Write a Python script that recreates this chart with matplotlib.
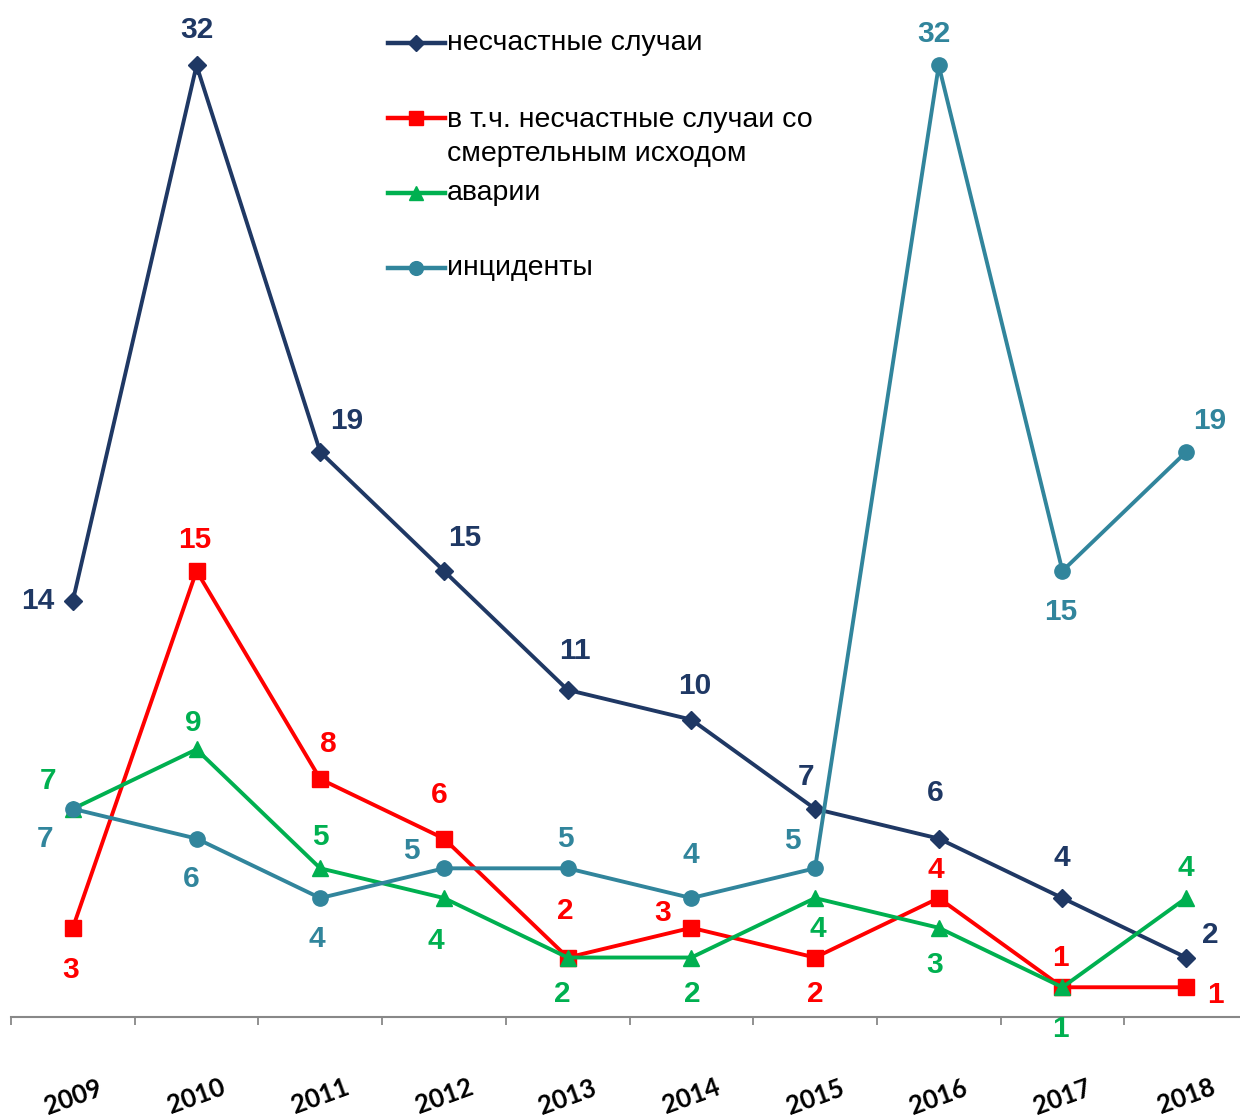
import matplotlib
matplotlib.use("Agg")
import matplotlib.pyplot as plt
from matplotlib.lines import Line2D
import numpy as np

years = ["2009", "2010", "2011", "2012", "2013", "2014", "2015", "2016", "2017", "2018"]
accidents = [14, 32, 19, 15, 11, 10, 7, 6, 4, 2]
fatal = [3, 15, 8, 6, 2, 3, 2, 4, 1, 1]
breakdowns = [7, 9, 5, 4, 2, 2, 4, 3, 1, 4]
incidents = [7, 6, 4, 5, 5, 4, 5, 32, 15, 19]

names = ["несчастные случаи",
         "в т.ч. несчастные случаи со\nсмертельным исходом",
         "аварии",
         "инциденты"]
colors = ["#1F3864", "#FF0000", "#00B050", "#31859C"]
markers = ["D", "s", "^", "o"]
msizes = [9.5, 11, 11, 11]

# label offsets in pixels (dx right, dy down)
offsets = [
    [(-35, 0), (0, -35), (26, -31), (21, -33), (7, -39), (3, -34), (-9, -32), (-3, -46), (-1, -40), (24, -23)],
    [(-2, 42), (-2, -31), (8, -35), (-5, -44), (-2, -47), (-29, -15), (0, 36), (-3, -28), (-2, -29), (29, 8)],
    [(-25, -28), (-3, -26), (0, -31), (-8, 43), (-5, 36), (1, 36), (3, 31), (-4, 37), (-2, 42), (0, -30)],
    [(-28, 30), (-5, 40), (-3, 41), (-33, -17), (-2, -29), (-1, -43), (-23, -27), (-5, -31), (-2, 41), (24, -31)],
]

fig = plt.figure(figsize=(12.4, 11.18), dpi=100)
ax = fig.add_axes([11 / 1240, 101 / 1118, 1237 / 1240, 1017 / 1118])

x = np.arange(len(years))
series = [accidents, fatal, breakdowns, incidents]
for vals, c, m, ms, offs in zip(series, colors, markers, msizes, offsets):
    ax.plot(x, vals, color=c, lw=2.8, marker=m, ms=ms, mfc=c, mec=c, zorder=3)
    for xi, v, (dx, dy) in zip(x, vals, offs):
        ax.annotate(str(v), (xi, v), xytext=(dx * 0.72, -dy * 0.72), textcoords="offset points",
                    ha="center", va="center", color=c, fontsize=21.5, fontweight="bold",
                    family="Liberation Sans")

ax.set_xlim(-0.5, 9.5)
ax.set_ylim(0, 34.2)
for s in ["top", "right", "left"]:
    ax.spines[s].set_visible(False)
ax.spines["bottom"].set_color("#888888")
ax.spines["bottom"].set_linewidth(1.5)
ax.set_yticks([])
ax.set_xticks(x)
ax.set_xticklabels(years, rotation=20, fontsize=18.5, fontweight="bold", family="Lato")
ax.tick_params(axis="x", which="major", length=0, pad=42)
ax.set_xticks(np.arange(-0.5, 10, 1), minor=True)
ax.tick_params(axis="x", which="minor", length=6, width=1.3, color="#888888")

# legend drawn by hand
leg_y = [43, 118, 193, 268]
for name, c, m, ms, yy in zip(names, colors, markers, msizes, leg_y):
    fy = 1 - yy / 1118
    fig.add_artist(Line2D([388 / 1240, 445 / 1240], [fy, fy], color=c, lw=3.2,
                          transform=fig.transFigure))
    fig.add_artist(Line2D([416 / 1240], [fy], color=c, marker=m, ms=ms * 0.9, mfc=c, mec=c,
                          transform=fig.transFigure))
    if "\n" in name:
        fig.text(447 / 1240, 1 - (yy - 11) / 1118, name, ha="left", va="top",
                 fontsize=20.5, family="Liberation Sans", color="black", linespacing=1.38)
    else:
        fig.text(447 / 1240, fy, name, ha="left", va="center",
                 fontsize=20.5, family="Liberation Sans", color="black")

fig.savefig("out.png", dpi=100)
